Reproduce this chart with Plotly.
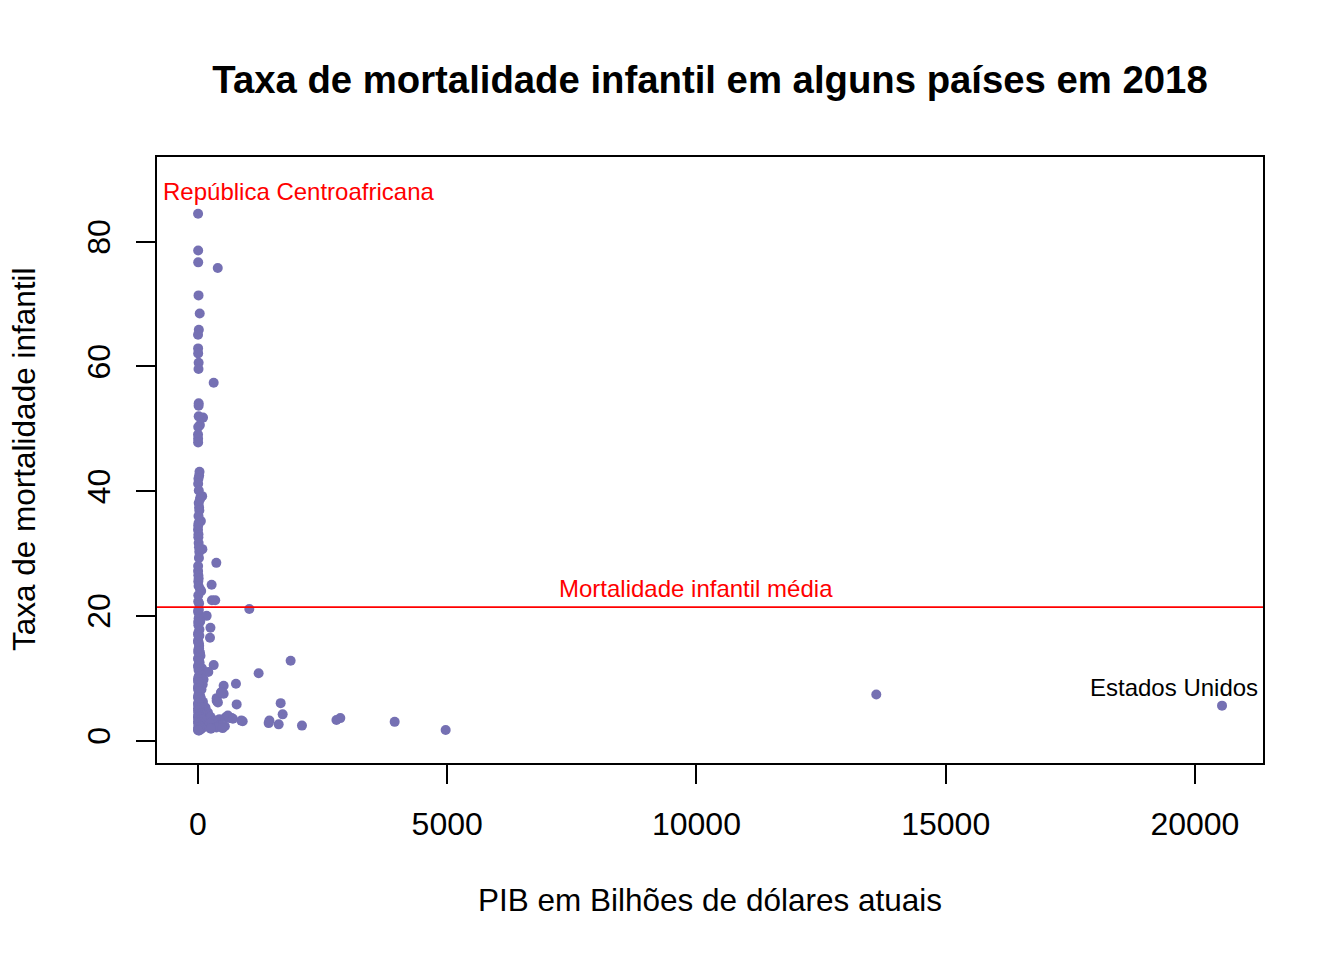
import plotly.graph_objects as go

# PIB (bilhões de US$) e taxa de mortalidade infantil (por 1000 nascidos vivos), 2018
pib = [
    2.2, 4.1, 4.7, 397, 11.3, 35, 17.2, 1.5, 2.7, 4.0, 13.3, 11.0, 315, 14.4, 12.9, 101, 14.3, 38.5, 5.2, 1.2, 3.0, 3.2,
    31, 24, 9.5, 3.9, 16, 84, 49, 15, 23, 27, 58, 12, 1.0, 9.7, 7.9, 13.6, 88, 26, 19, 368, 2.6, 8.0, 14, 6.2, 274, 12,
    40, 65, 346, 280, 5.0, 22, 1030, 2.3, 10, 174, 13.5, 45, 250, 30, 6.7, 241, 1.0, 3.5, 18, 24, 8.0, 40, 50, 3.0, 15,
    1859, 315, 2.0, 80, 207, 1217, 60, 16, 25,
    112, 5, 20, 762, 95, 515, 1.6, 38, 70, 12, 475, 27, 515, 9, 45, 13608, 375, 3, 60, 375, 18, 100, 1659, 776, 33, 8,
    20544, 55, 150, 2.5, 25, 90, 42, 200, 11, 65, 1699, 30, 120, 5, 556, 250, 80, 642, 676, 2855, 15, 430, 2778, 60, 350,
    1433, 897, 45, 3946, 300, 100, 1418, 20, 1619, 240, 35, 450, 2086, 55, 540, 130, 370, 250, 495, 10, 60, 4969, 25,
    1.2, 7, 14, 2, 22, 4, 30, 10, 0.5, 40, 16, 3, 50, 7, 26, 2, 13, 75, 1, 38, 6, 18, 48, 4, 70, 30, 2, 8,
    12, 6, 33, 10, 4, 22, 1.5, 28, 9, 4, 18, 7, 3, 20, 5, 11, 40,
    400, 600, 700, 870, 260, 460,
]
mortalidade = [
    84.5, 78.6, 76.7, 75.8, 71.4, 68.5, 65.9, 65.1, 62.9, 62.1, 60.6, 59.6, 57.4, 54.1, 53.7, 51.8, 52.0, 50.6, 50.3, 49.1, 48.4, 47.8,
    43.1, 42.5, 42.0, 41.2, 40.1, 39.2, 39.0, 38.1, 37.4, 36.9, 35.2, 34.9, 33.8, 33.1, 32.6, 31.7, 30.7, 30.3, 29.3, 28.5, 27.2, 26.5, 26.0, 25.5, 25.0, 24.8,
    24.3, 24.0, 22.5, 22.5, 22.3, 22.0, 21.1, 20.8, 20.5, 20.0, 19.6, 19.1, 18.1, 17.8, 17.3, 16.5, 17.0, 16.1, 15.6, 15.2, 14.6, 14.1, 13.6, 13.2, 12.9,
    12.8, 12.1, 12.0, 11.6, 11.0, 10.8, 10.6, 10.3, 10.0,
    9.8, 9.6, 9.3, 9.1, 9.0, 8.8, 8.6, 8.4, 8.2, 8.0, 7.8, 7.6, 7.5, 7.3, 7.1, 7.4, 6.8, 6.9, 6.7, 6.4, 6.5, 6.2, 6.0, 5.8, 5.9, 5.7,
    5.6, 5.5, 5.3, 5.2, 5.0, 4.9, 4.7, 4.5, 4.6, 4.3, 4.2, 4.1, 4.0, 3.9, 3.75, 3.8, 3.7, 3.6, 3.6, 3.6, 3.5, 3.4, 3.3, 3.3, 3.2,
    3.2, 3.1, 3.1, 3.0, 3.0, 2.9, 2.8, 2.8, 2.6, 2.7, 2.6, 2.4, 2.4, 2.3, 2.3, 2.2, 2.1, 2.0, 2.0, 1.9, 1.8, 1.7, 1.6,
    9.9, 9.4, 8.9, 8.3, 7.9, 7.0, 6.6, 6.1, 5.9, 5.4, 5.1, 4.8, 4.4, 4.2, 3.9, 3.7, 3.4, 3.4, 3.0, 2.9, 2.7, 2.5, 2.2, 2.1, 2.0, 1.8, 1.7, 1.6,
    11.3, 11.8, 12.5, 13.0, 14.2, 14.8, 15.8, 16.8, 18.5, 19.0, 21.0, 23.3, 28.0, 31.0, 34.5, 36.0, 38.7,
    6.1, 4.0, 3.5, 3.2, 1.9, 7.7,
]
media = 21.4  # mortalidade infantil média

x_ticks = [0, 5000, 10000, 15000, 20000]
y_ticks = [0, 20, 40, 60, 80]

cor = "#7570B3"
fonte = "Liberation Sans, Arial, sans-serif"

fig = go.Figure()
fig.add_trace(go.Scatter(
    x=pib, y=mortalidade, mode="markers",
    marker=dict(color=cor, size=10, line=dict(width=0)),
    hoverinfo="x+y", showlegend=False,
))
fig.add_hline(y=media, line=dict(color="red", width=1.6))

idx_caf = mortalidade.index(max(mortalidade))
idx_eua = pib.index(max(pib))

fig.add_annotation(x=pib[idx_caf], y=mortalidade[idx_caf], text="República Centroafricana",
                   showarrow=False, xanchor="left", yanchor="middle", xshift=-37, yshift=22,
                   font=dict(color="red", size=24, family=fonte))
fig.add_annotation(x=pib[idx_eua], y=mortalidade[idx_eua], text="Estados Unidos",
                   showarrow=False, xanchor="right", yanchor="middle", xshift=38, yshift=18,
                   font=dict(color="black", size=24, family=fonte))
fig.add_annotation(x=10000, y=media, text="Mortalidade infantil média",
                   showarrow=False, xanchor="center", yanchor="middle", yshift=19,
                   font=dict(color="red", size=24, family=fonte))

# axis titles
fig.add_annotation(xref="paper", yref="paper", x=0.5, y=0, yshift=-137,
                   text="PIB em Bilhões de dólares atuais", showarrow=False,
                   xanchor="center", yanchor="middle", font=dict(size=31.5, family=fonte, color="black"))
fig.add_annotation(xref="paper", yref="paper", x=0, y=0.5, xshift=-133,
                   text="Taxa de mortalidade infantil", showarrow=False, textangle=-90,
                   xanchor="center", yanchor="middle", font=dict(size=31.5, family=fonte, color="black"))

fig.update_layout(
    width=1344, height=960,
    margin=dict(l=157, r=81, t=157, b=197),
    plot_bgcolor="white", paper_bgcolor="white",
    font=dict(family=fonte, color="black"),
    title=dict(text="<b>Taxa de mortalidade infantil em alguns países em 2018</b>",
               x=0.5283, xanchor="center", y=1 - 80 / 960, yanchor="middle",
               font=dict(size=38.3, family=fonte, color="black")),
)
fig.update_xaxes(range=[-822, 21366], tickvals=x_ticks, ticktext=[str(v) for v in x_ticks],
                 ticks="outside", ticklen=19, tickwidth=1.5, tickcolor="black",
                 showline=True, linecolor="black", linewidth=1.5, mirror=True,
                 showgrid=False, zeroline=False, ticklabelstandoff=13,
                 tickfont=dict(size=32, family=fonte, color="black"))
fig.update_yaxes(range=[-3.6, 93.6], tickvals=y_ticks, ticktext=[str(v) for v in y_ticks],
                 ticks="outside", ticklen=19, tickwidth=1.5, tickcolor="black",
                 showline=True, linecolor="black", linewidth=1.5, mirror=True,
                 showgrid=False, zeroline=False, tickangle=-90, ticklabelstandoff=13,
                 tickfont=dict(size=32, family=fonte, color="black"))

fig.write_html("out.html")
